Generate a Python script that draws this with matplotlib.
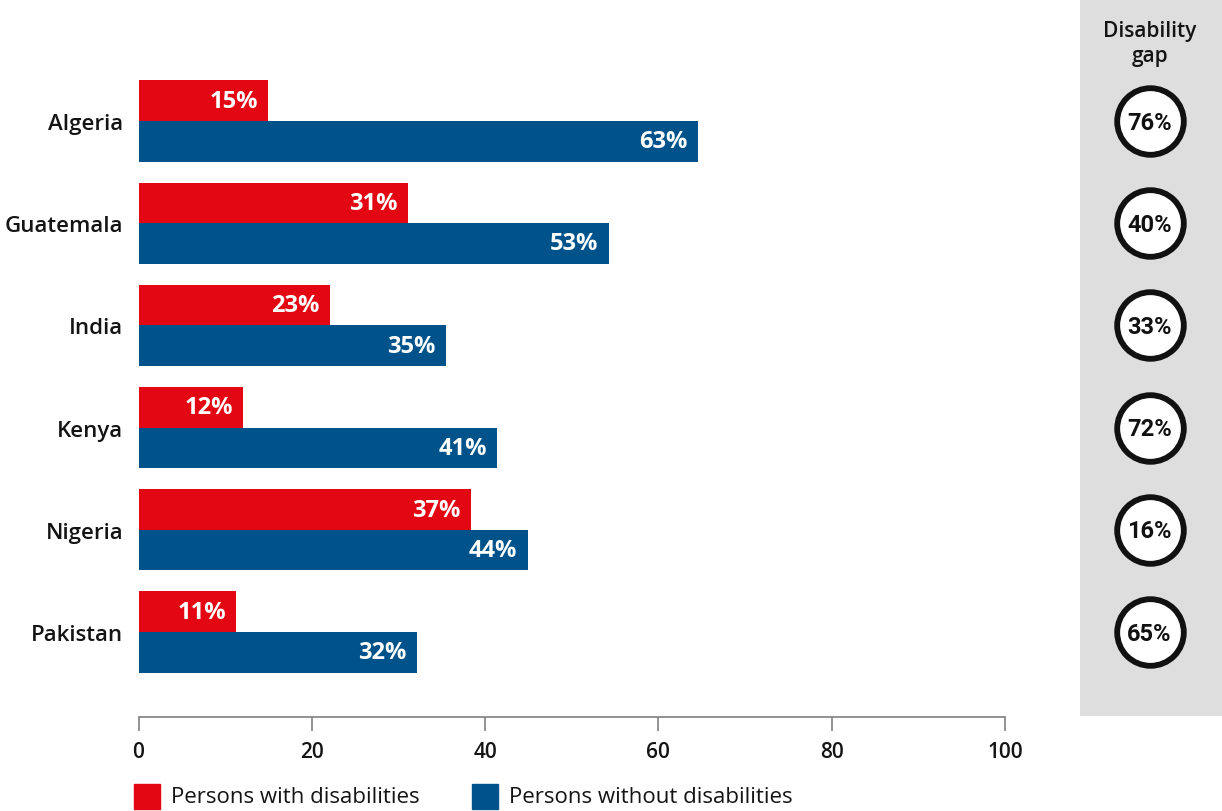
import matplotlib
matplotlib.use("Agg")
import matplotlib.pyplot as plt
import numpy as np

plt.rcParams['font.family'] = ['Open Sans', 'DejaVu Sans']

countries = ['Algeria', 'Guatemala', 'India', 'Kenya', 'Nigeria', 'Pakistan']
# bar lengths as drawn in the picture
with_dis = [15.2, 31.3, 22.3, 12.3, 38.6, 11.5]
without_dis = [64.8, 54.5, 35.7, 41.6, 45.1, 32.3]
# printed labels
with_labels = ['15%', '31%', '23%', '12%', '37%', '11%']
without_labels = ['63%', '53%', '35%', '41%', '44%', '32%']
gap_labels = ['76%', '40%', '33%', '72%', '16%', '65%']
xticks = [0, 20, 40, 60, 80, 100]

RED = '#e30613'
BLUE = '#00538a'
INK = '#141414'

W, H = 1222, 812
fig = plt.figure(figsize=(W / 100, H / 100), dpi=100)

# pixel -> figure fraction helpers
def fx(px):
    return px / W

def fy(py):
    return 1 - py / H

row = 102.2
y0 = 122
ax_top, ax_bot = 40, 718
ax = fig.add_axes([fx(138.5), fy(ax_bot), fx(1005) - fx(138.5), fy(ax_top) - fy(ax_bot)])
ax.set_xlim(0, 100)
ax.set_ylim((ax_bot - y0) / row, (ax_top - y0) / row)

ypos = np.arange(len(countries))
h = 0.397
ax.barh(ypos - h / 2, with_dis, height=h, color=RED, left=-0.2)
ax.barh(ypos + h / 2, without_dis, height=h, color=BLUE, left=-0.2)

pad = 1.4
for i in range(len(countries)):
    ax.text(with_dis[i] - pad, ypos[i] - h / 2, with_labels[i], color='white',
            fontsize=17, fontweight='bold', ha='right', va='center')
    ax.text(without_dis[i] - pad, ypos[i] + h / 2, without_labels[i], color='white',
            fontsize=17, fontweight='bold', ha='right', va='center')

ax.set_yticks(ypos)
ax.set_yticklabels(countries, fontsize=16, color=INK, fontweight='semibold')
ax.tick_params(axis='y', length=0, pad=11)

ax.set_xticks(xticks)
ax.set_xticklabels([str(t) for t in xticks], fontsize=15, color=INK, fontweight='semibold')
ax.tick_params(axis='x', length=10, width=1.2, color='#808080', pad=7, direction='out')
for s in ['top', 'right', 'left']:
    ax.spines[s].set_visible(False)
ax.spines['bottom'].set_color('#808080')
ax.spines['bottom'].set_linewidth(1.2)

# disability gap panel
pax = fig.add_axes([fx(1080), fy(717), 1 - fx(1080), fy(0) - fy(717)])
pax.set_facecolor('#dedede')
pax.set_xlim(0, 1)
pax.set_ylim((717 - y0) / row, (0 - y0) / row)
pax.set_xticks([])
pax.set_yticks([])
for s in pax.spines.values():
    s.set_visible(False)
pax.scatter([0.49] * len(gap_labels), ypos, s=2300, facecolor='white',
            edgecolor='#111111', linewidth=4.2, zorder=3)
for i, lab in enumerate(gap_labels):
    pax.text(0.49, ypos[i] + 0.01, lab, ha='center', va='center', fontsize=17,
             fontweight='bold', color='#111111', zorder=4,
             family=['Roboto', 'DejaVu Sans'])
pax.text(0.49, (44 - y0) / row, 'Disability\ngap', ha='center', va='center',
         fontsize=15, color=INK, linespacing=1.25, fontweight='semibold')

# legend
fig.patches.append(plt.Rectangle((fx(134), fy(810)), fx(26), fy(785) - fy(810),
                                 transform=fig.transFigure, color=RED))
fig.text(fx(171), fy(798), 'Persons with disabilities', fontsize=16, va='center', color=INK)
fig.patches.append(plt.Rectangle((fx(472), fy(810)), fx(26), fy(785) - fy(810),
                                 transform=fig.transFigure, color=BLUE))
fig.text(fx(509), fy(798), 'Persons without disabilities', fontsize=16, va='center', color=INK)

fig.savefig('out.png', dpi=100)
